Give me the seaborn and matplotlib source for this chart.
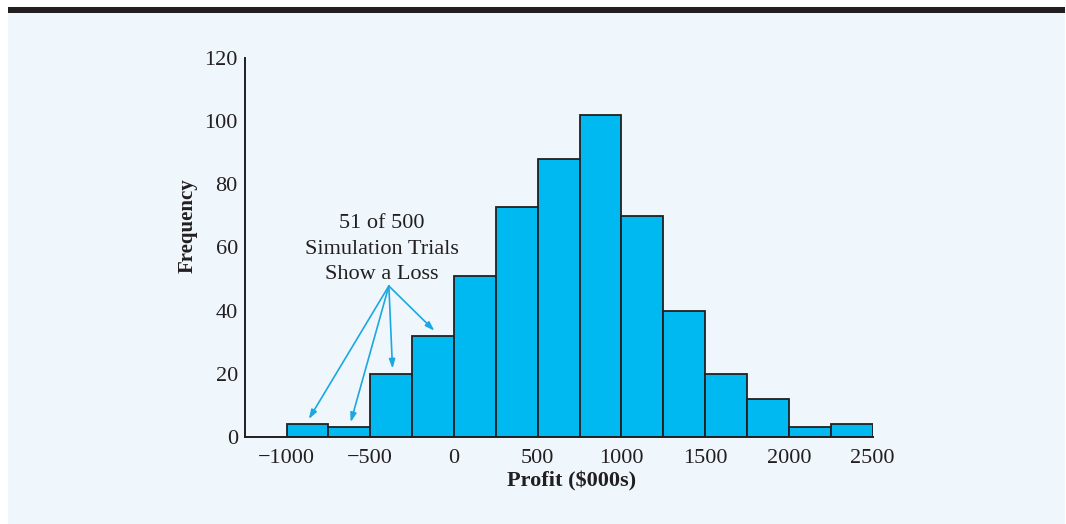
import matplotlib
matplotlib.use("Agg")
import matplotlib.pyplot as plt
import seaborn as sns
import numpy as np
import pandas as pd
from matplotlib.patches import Rectangle

# Simulated profit distribution ($000s), 250-wide bins
bin_edges = [-1000, -750, -500, -250, 0, 250, 500, 750, 1000,
             1250, 1500, 1750, 2000, 2250, 2500]
frequencies = [4, 3, 20, 32, 51, 73, 88, 102, 70, 40, 20, 12, 3, 4]
x_ticks = [-1000, -500, 0, 500, 1000, 1500, 2000, 2500]
y_ticks = [0, 20, 40, 60, 80, 100, 120]
loss_bins = 4  # bins lying below zero profit
note = "51 of 500\nSimulation Trials\nShow a Loss"

BAR = "#00B9F0"
EDGE = "#231F20"
PANEL = "#EFF7FD"
ARROW = "#1BA8E0"

sns.set_theme(style="white")
plt.rcParams["font.family"] = ["Liberation Serif", "DejaVu Serif"]

W, H = 1066, 524
fig = plt.figure(figsize=(W / 100, H / 100), dpi=100, facecolor="white")

# light panel behind the chart and a dark rule along its top
fig.patches.append(Rectangle((8 / W, 0), (1065 - 8) / W, 1 - 7 / H,
                             transform=fig.transFigure, facecolor=PANEL,
                             edgecolor="none", zorder=-20))
fig.patches.append(Rectangle((8 / W, 1 - 12.7 / H), (1065 - 8) / W, 5.7 / H,
                             transform=fig.transFigure, facecolor=EDGE,
                             edgecolor="none", zorder=-19))

left, right = 244.7 / W, 872.5 / W
bottom, top = 1 - 436.7 / H, 1 - 58.3 / H
ax = fig.add_axes([left, bottom, right - left, top - bottom])
ax.set_facecolor("none")

edges = np.array(bin_edges, dtype=float)
centers = (edges[:-1] + edges[1:]) / 2
df = pd.DataFrame({"profit": centers, "freq": frequencies})
sns.histplot(data=df, x="profit", weights="freq", bins=bin_edges, ax=ax,
             color=BAR, edgecolor=EDGE, linewidth=1.3, alpha=1)

ax.set_xlim(-1250, 2500)
ax.set_ylim(0, 120)
ax.set_xticks(x_ticks)
ax.set_yticks(y_ticks)
ax.tick_params(axis="both", length=0, labelsize=16, colors="#231F20")
ax.tick_params(axis="x", pad=9)
ax.tick_params(axis="y", pad=5)
for side in ("top", "right"):
    ax.spines[side].set_visible(False)
for side in ("left", "bottom"):
    ax.spines[side].set_color(EDGE)
    ax.spines[side].set_linewidth(1.4)
ax.set_xlabel("")
ax.set_ylabel("")

fig.text(187.5 / W, 1 - 226 / H, "Frequency", rotation=90, ha="center",
         va="center", fontsize=15, fontweight="bold", color="#231F20")
fig.text(571.7 / W, 1 - 481 / H, "Profit ($000s)", ha="center",
         va="center", fontsize=16, fontweight="bold", color="#231F20")

# note with arrows to each loss bin
ax.text(-432, 59.5, note, ha="center", va="center", fontsize=16,
        linespacing=1.48, color="#231F20")
origin = (-389, 47.8)
for c, f in zip(centers[:loss_bins], frequencies[:loss_bins]):
    ax.annotate("", xy=(c + 8, f + 1.6), xytext=origin,
                arrowprops=dict(arrowstyle="-|>,head_length=0.45,head_width=0.15",
                                color=ARROW, lw=1.2, shrinkA=0, shrinkB=0))

fig.savefig("out.png", dpi=100, facecolor="white")
